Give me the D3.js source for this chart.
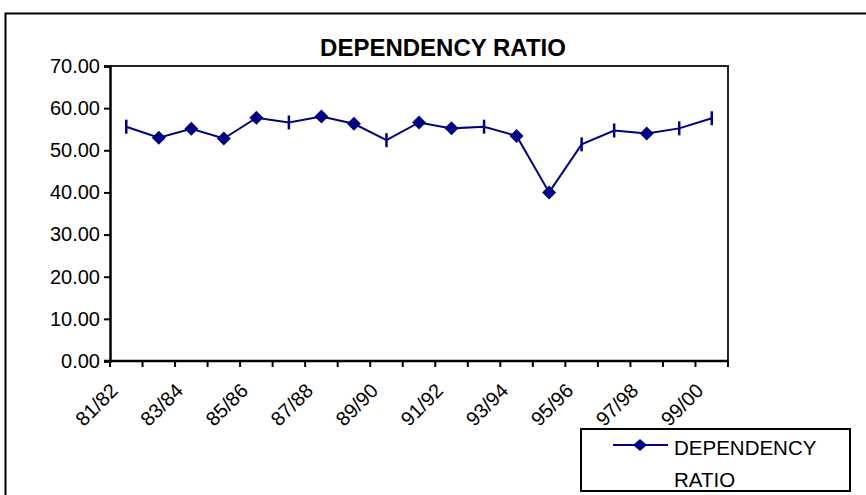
<!doctype html>
<html>
<head>
<meta charset="utf-8">
<title>DEPENDENCY RATIO</title>
<script src="https://d3js.org/d3.v7.min.js"></script>
<style>
  body { margin: 0; background: #fff; }
  text { font-family: Arial, "Liberation Sans", sans-serif; fill: #000; }
</style>
</head>
<body>
<script>
// chart data
var years = ["81/82","82/83","83/84","84/85","85/86","86/87","87/88","88/89","89/90","90/91",
             "91/92","92/93","93/94","94/95","95/96","96/97","97/98","98/99","99/00"];
var ratio = [55.6, 53.0, 55.1, 52.8, 57.7, 56.6, 58.0, 56.3, 52.4, 56.6,
             55.2, 55.6, 53.4, 40.0, 51.4, 54.7, 54.0, 55.2, 57.6];
var yTicks = [0, 10, 20, 30, 40, 50, 60, 70];
// the way each marker came out in the original picture
var markerKind = ["bar","dia","dia","dia","dia","bar","dia","dia","bar","dia",
                  "dia","bar","dia","dia","bar","bar","dia","bar","bar"];

var W = 866, H = 495;
var svg = d3.select("body").append("svg")
    .attr("width", W)
    .attr("height", H);

svg.append("rect").attr("width", W).attr("height", H).attr("fill", "#fff");

// chart area border (runs off the right and bottom edges)
svg.append("rect")
    .attr("x", 5.5).attr("y", 13.5)
    .attr("width", 900).attr("height", 520)
    .attr("fill", "none").attr("stroke", "#000").attr("stroke-width", 2);

svg.append("text")
    .attr("x", 443).attr("y", 56)
    .attr("text-anchor", "middle")
    .attr("font-weight", "bold")
    .attr("font-size", 24)
    .text("DEPENDENCY RATIO");

var pLeft = 110, pRight = 728, pTop = 66, pBottom = 361;

var x = d3.scaleBand().domain(years).range([pLeft, pRight]).padding(0);
var y = d3.scaleLinear().domain([0, 70]).range([pBottom, pTop]);
var cx = function(d) { return x(d) + x.bandwidth() / 2; };

// plot frame top and right
svg.append("path")
    .attr("d", "M" + pLeft + "," + pTop + "H" + pRight + "V" + pBottom)
    .attr("fill", "none").attr("stroke", "#222").attr("stroke-width", 2);

// y axis
var yAxis = svg.append("g")
    .attr("transform", "translate(" + pLeft + ",0)")
    .call(d3.axisLeft(y).tickValues(yTicks).tickFormat(d3.format(".2f")).tickSize(6).tickPadding(4));
yAxis.select(".domain").attr("stroke", "#000").attr("stroke-width", 2.5);
yAxis.selectAll(".tick line").attr("stroke", "#000").attr("stroke-width", 2);
yAxis.selectAll(".tick text")
    .attr("font-size", 20)
    .attr("font-family", "Arial, 'Liberation Sans', sans-serif")
    .attr("fill", "#000");

// x axis line and ticks on category boundaries
svg.append("line")
    .attr("x1", pLeft - 6).attr("x2", pRight)
    .attr("y1", pBottom).attr("y2", pBottom)
    .attr("stroke", "#000").attr("stroke-width", 2.5);

var bounds = years.map(function(d) { return x(d); }).concat([pRight]);
svg.selectAll(".xtick")
    .data(bounds)
    .enter().append("line")
    .attr("class", "xtick")
    .attr("x1", function(d) { return d; }).attr("x2", function(d) { return d; })
    .attr("y1", pBottom).attr("y2", pBottom + 6)
    .attr("stroke", "#000").attr("stroke-width", 2);

svg.selectAll(".xlab")
    .data(years.filter(function(d, i) { return i % 2 == 0; }))
    .enter().append("text")
    .attr("class", "xlab")
    .attr("text-anchor", "end")
    .attr("font-size", 20)
    .attr("transform", function(d) {
        return "translate(" + (cx(d) - 12) + "," + (pBottom + 26) + ") rotate(-45)";
    })
    .attr("dy", "0.35em")
    .text(function(d) { return d; });

// series
var navy = "#000080";
var line = d3.line()
    .x(function(d, i) { return cx(years[i]); })
    .y(function(d) { return y(d); });

svg.append("path")
    .datum(ratio)
    .attr("d", line)
    .attr("fill", "none")
    .attr("stroke", navy)
    .attr("stroke-width", 2);

var diamond = "M0,-7L7,0L0,7L-7,0Z";
var pts = svg.selectAll(".pt")
    .data(ratio)
    .enter().append("g")
    .attr("class", "pt")
    .attr("transform", function(d, i) {
        return "translate(" + cx(years[i]) + "," + y(d) + ")";
    });

pts.filter(function(d, i) { return markerKind[i] == "dia"; })
    .append("path")
    .attr("d", diamond)
    .attr("fill", navy);

pts.filter(function(d, i) { return markerKind[i] == "bar"; })
    .append("line")
    .attr("y1", -7).attr("y2", 7)
    .attr("stroke", navy)
    .attr("stroke-width", 2.5);

// legend
var lg = svg.append("g");
lg.append("rect")
    .attr("x", 581).attr("y", 429)
    .attr("width", 269).attr("height", 62)
    .attr("fill", "#fff").attr("stroke", "#000").attr("stroke-width", 2);
lg.append("line")
    .attr("x1", 613).attr("x2", 668)
    .attr("y1", 445).attr("y2", 445)
    .attr("stroke", navy).attr("stroke-width", 2);
lg.append("path")
    .attr("d", "M0,-6L7,0L0,6L-7,0Z")
    .attr("transform", "translate(640,445)")
    .attr("fill", navy);
lg.append("text")
    .attr("x", 674).attr("y", 455)
    .attr("font-size", 20.5)
    .text("DEPENDENCY");
lg.append("text")
    .attr("x", 674).attr("y", 487)
    .attr("font-size", 20.5)
    .text("RATIO");
</script>
</body>
</html>
